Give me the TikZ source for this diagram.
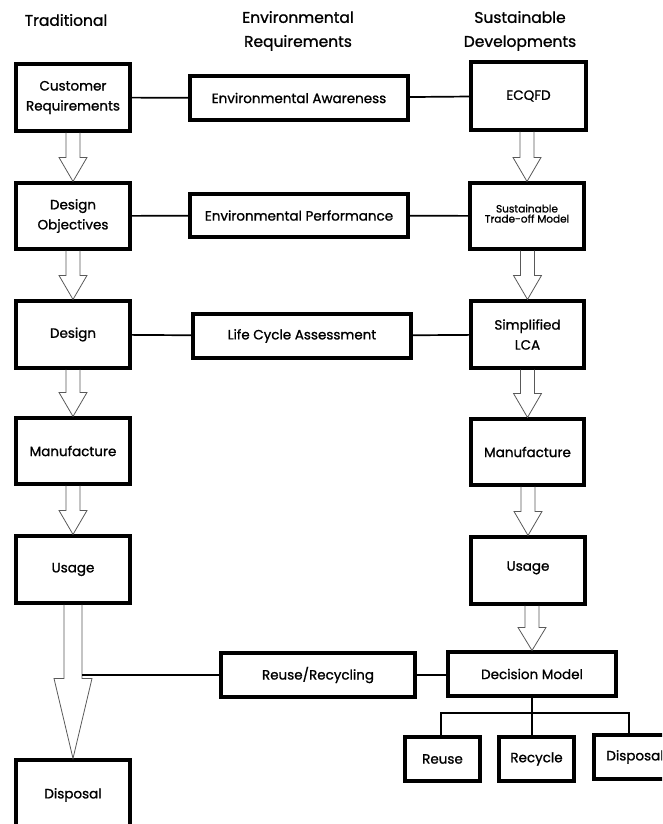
\documentclass[tikz,border=0pt]{standalone}
\usepackage{fontspec}
\setmainfont{Poppins}
\newfontfamily\labelfont{Poppins}[FakeBold=1.1]
\usetikzlibrary{calc}
% hollow block arrow from the bottom of #1 to the top of #2
% #3 shaft half width, #4 head half width, #5 head length
\newcommand\hollowarrow[5]{%
  \draw[hollow] let \p1=(#1.south), \p2=(#2.north) in
    (\x2-#3pt,\y1) -- (\x2-#3pt,\y2+#5pt) -- (\x2-#4pt,\y2+#5pt) -- (\x2,\y2)
    -- (\x2+#4pt,\y2+#5pt) -- (\x2+#3pt,\y2+#5pt) -- (\x2+#3pt,\y1);}
\begin{document}
\begin{tikzpicture}[x=1pt,y=-1pt,
  box/.style={draw, line width=3.1pt, inner sep=0pt, align=center,
              font=\labelfont\fontsize{13.5}{20}\selectfont},
  smallbox/.style={box, font=\labelfont\fontsize{10.5}{18}\selectfont},
  link/.style={line width=1.7pt},
  hollow/.style={draw=black!65, line width=0.8pt, line join=miter},
  heading/.style={align=center, font=\labelfont\fontsize{15.5}{24}\selectfont}]
\useasboundingbox (0,0) rectangle (662,824);
\clip (0,0) rectangle (662,824);

% column headings
\node[heading] (h1) at (66,20) {Traditional};
\node[heading] (h2) at (298,31) {Environmental\\Requirements};
\node[heading] (h3) at (520,31) {Sustainable\\Developments};

% traditional column
\node[box, minimum width=114, minimum height=67] (cr) at (73,97.5) {Customer\\Requirements};
\node[box, minimum width=114, minimum height=66] (do) at (73,216) {Design\\Objectives};
\node[box, minimum width=114, minimum height=67] (de) at (73,334.5) {Design};
\node[box, minimum width=114, minimum height=66] (ma) at (73,451) {Manufacture};
\node[box, minimum width=114, minimum height=67] (us) at (73,569.5) {Usage};
\node[box, minimum width=114, minimum height=70] (di) at (73,795) {Disposal};

% environmental requirements column
\node[box, minimum width=218, minimum height=44] (ea) at (299,98) {Environmental Awareness};
\node[box, minimum width=218, minimum height=43] (ep) at (299,215.5) {Environmental Performance};
\node[box, minimum width=218, minimum height=44] (lc) at (302,336) {Life Cycle Assessment};
\node[box, minimum width=194, minimum height=44] (rr) at (318,675) {Reuse/Recycling};

% sustainable developments column
\node[box, minimum width=115, minimum height=68] (ec) at (528.5,96) {ECQFD};
\node[smallbox, minimum width=114, minimum height=66] (st) at (527,216) {\raisebox{5pt}{\shortstack{Sustainable\\[-1pt]Trade-off Model}}};
\node[box, minimum width=113, minimum height=67] (sl) at (527.5,334.5) {Simplified\\LCA};
\node[box, minimum width=113, minimum height=66] (mr) at (527.5,452) {Manufacture};
\node[box, minimum width=114, minimum height=67] (ur) at (528,570.5) {\raisebox{9pt}{Usage}};
\node[box, minimum width=168, minimum height=44] (dm) at (532,674) {Decision Model};
\node[box, minimum width=75, minimum height=44] (rs) at (442.5,759) {Reuse};
\node[box, minimum width=75, minimum height=44] (rc) at (536.5,759) {\raisebox{-2pt}{Recycle}};
\node[box, minimum width=74, minimum height=44] (dp) at (631,757) {\hspace*{8pt}Disposal};

% horizontal links between the columns
\draw[link] (cr) -- (ea);
\draw[link] (ea) -- (ec);
\draw[link] (do) -- (ep);
\draw[link] (ep) -- (st);
\draw[link] (de) -- (lc);
\draw[link] (lc) -- (sl);
\draw[link] (rr.east) -- (dm.west |- rr.east);

% flow arrows, traditional column
\hollowarrow{cr}{do}{7}{14}{24}
\hollowarrow{do}{de}{7}{14}{24}
\hollowarrow{de}{ma}{7}{14}{24}
\hollowarrow{ma}{us}{7}{14}{24}
\hollowarrow{us}{di}{9}{19}{80}

% flow arrows, sustainable column
\hollowarrow{ec}{st}{7}{14}{24}
\hollowarrow{st}{sl}{7}{14}{24}
\hollowarrow{sl}{mr}{7}{14}{24}
\hollowarrow{mr}{ur}{7}{14}{24}
\hollowarrow{ur}{dm}{7}{14}{23}

% reuse/recycling branches off the disposal arrow
\coordinate (shaft) at ($(di.north)+(9,-100)$);
\draw[link] (shaft |- rr.west) -- (rr.west);

% decision tree
\coordinate (bus) at (532,713);
\draw[link, line width=1.4pt] (dm.south) -- (dm.south |- rc.north);
\draw[link, line width=1.4pt] (rs.north -| 441,0) |- (bus) -| (dp.north -| 629,0);
\end{tikzpicture}
\end{document}
